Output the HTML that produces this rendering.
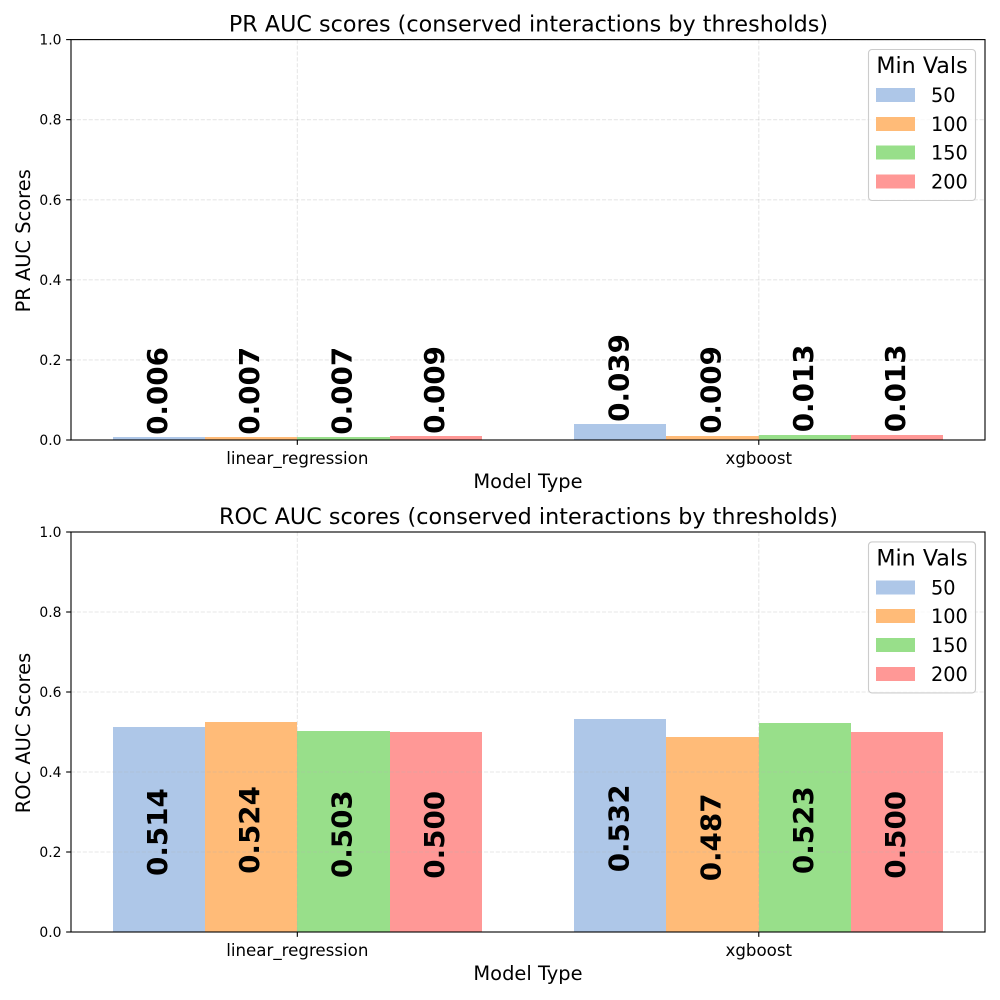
<!DOCTYPE html>
<html lang="en">
<head>
<meta charset="utf-8">
<title>PR and ROC AUC scores</title>
<style>
html,body{margin:0;padding:0;background:#fff;}
svg{display:block;}
text{font-family:"DejaVu Sans","Liberation Sans",sans-serif;fill:#000;}
</style>
</head>
<body>
<svg id="figure" xmlns="http://www.w3.org/2000/svg" width="1000" height="1000" viewBox="0 0 1000 1000"></svg>
<script>
const categories = ["linear_regression", "xgboost"];
const seriesNames = ["50", "100", "150", "200"];
const seriesColors = ["#aec7e8", "#ffbb78", "#98df8a", "#ff9896"];
const prValues50 = [0.0064, 0.039];
const prValues100 = [0.007, 0.009];
const prValues150 = [0.007, 0.013];
const prValues200 = [0.009, 0.013];
const rocValues50 = [0.5137, 0.532];
const rocValues100 = [0.524, 0.487];
const rocValues150 = [0.503, 0.523];
const rocValues200 = [0.500, 0.500];
const yTickLabels = ["0.0", "0.2", "0.4", "0.6", "0.8", "1.0"];

const SVG_NS = "http://www.w3.org/2000/svg";
const root = document.getElementById("figure");

function make(parent, tag, attrs, content) {
  const el = document.createElementNS(SVG_NS, tag);
  for (const key in attrs) el.setAttribute(key, attrs[key]);
  if (content !== undefined) el.textContent = content;
  parent.appendChild(el);
  return el;
}

function drawPanel(cfg) {
  const left = 71, right = 985;
  const top = cfg.top, bottom = cfg.bottom;
  const xScale = function (v) { return 71.2 + (v + 0.49) / 1.98 * 913.7; };
  const yScale = function (v) { return bottom - v * (bottom - top); };
  const barWidth = 0.2;

  const panel = make(root, "g", {});
  
  

  const bg = make(panel, "rect", { x: left, y: top, width: right - left, height: bottom - top, fill: "#fff" });
  
  

  // bars
  cfg.series.forEach(function (vals, s) {
    vals.forEach(function (v, c) {
      const x0 = Math.round(xScale(c + (s - 2) * barWidth));
      const x1 = Math.round(xScale(c + (s - 1) * barWidth));
      const yv = Math.round(yScale(v));
      const bar = make(panel, "rect", {
        x: x0, y: yv, width: x1 - x0, height: Math.max(bottom - yv, 0),
        fill: seriesColors[s], "shape-rendering": "crispEdges"
      });
      
      
    });
  });

  // grid
  yTickLabels.forEach(function (t) {
    const y = yScale(parseFloat(t));
    const line = make(panel, "line", {
      x1: left, x2: right, y1: y, y2: y, stroke: "#b0b0b0", "stroke-opacity": 0.3,
      "stroke-width": 1.11, "stroke-dasharray": "4.1 1.8"
    });
    
    
  });
  categories.forEach(function (name, c) {
    const x = xScale(c);
    const line = make(panel, "line", {
      x1: x, x2: x, y1: top, y2: bottom, stroke: "#b0b0b0", "stroke-opacity": 0.3,
      "stroke-width": 1.11, "stroke-dasharray": "4.1 1.8"
    });
    
    
  });

  // value labels
  cfg.series.forEach(function (vals, s) {
    vals.forEach(function (v, c) {
      const cx = xScale(c + (s - 1.5) * barWidth) + 8;
      let y, anchor;
      if (cfg.labelMode === "above") {
        y = yScale(v + 0.01) + 1.5;
        anchor = "start";
      } else {
        y = yScale(v / 2) + 2.8;
        anchor = "middle";
      }
      const label = make(panel, "text", {
        transform: "translate(" + cx + "," + y + ") rotate(-90)",
        "text-anchor": anchor, "font-size": 27.78, "font-weight": "bold"
      }, v.toFixed(3));
      
      
    });
  });

  // spines
  const frame = make(panel, "rect", {
    x: left, y: top, width: right - left, height: bottom - top,
    fill: "none", stroke: "#000", "stroke-width": 1.11
  });
  
  

  // y ticks
  yTickLabels.forEach(function (t) {
    const y = yScale(parseFloat(t));
    const tick = make(panel, "line", { x1: left - 4.86, x2: left, y1: y, y2: y, stroke: "#000", "stroke-width": 1.11 });
    
    
    const label = make(panel, "text", { x: 61.5, y: y + 5, "text-anchor": "end", "font-size": 13.89 }, t);
    
    
  });

  // x ticks
  categories.forEach(function (name, c) {
    const x = xScale(c);
    const tick = make(panel, "line", { x1: x, x2: x, y1: bottom, y2: bottom + 4.86, stroke: "#000", "stroke-width": 1.11 });
    
    
    const label = make(panel, "text", { x: x, y: bottom + 24, "text-anchor": "middle", "font-size": 16.67 }, name);
    
    
  });

  // titles
  const title = make(panel, "text", { x: 528.5, y: top - 8, "text-anchor": "middle", "font-size": 22.22, "letter-spacing": 0.04 }, cfg.title);
  
  

  const xTitle = make(panel, "text", { x: 528, y: bottom + 48, "text-anchor": "middle", "font-size": 19.44 }, "Model Type");
  
  

  const yMid = (top + bottom) / 2 + 1;
  const yTitle = make(panel, "text", {
    transform: "translate(30," + yMid + ") rotate(-90)",
    "text-anchor": "middle", "font-size": 19.44
  }, cfg.yTitle);
  
  

  // legend
  const dy = top - 39.6;
  const legend = make(panel, "g", {});
  
  

  const box = make(legend, "rect", {
    x: 868.5, y: 49.5 + dy, width: 107, height: 151, rx: 3.5, ry: 3.5,
    fill: "#fff", "fill-opacity": 0.8, stroke: "#ccc", "stroke-width": 1.11
  });
  
  

  const legendTitle = make(legend, "text", { x: 922, y: 73 + dy, "text-anchor": "middle", "font-size": 22.22 }, "Min Vals");
  
  

  seriesNames.forEach(function (name, s) {
    const rowY = 88 + dy + s * 28.8;
    const swatch = make(legend, "rect", {
      x: 876, y: rowY, width: 39, height: 14, fill: seriesColors[s], "shape-rendering": "crispEdges"
    });
    
    
    const text = make(legend, "text", { x: 931, y: rowY + 14, "font-size": 19.3 }, name);
    
    
  });
}

drawPanel({
  key: "pr-auc",
  top: 39.6,
  bottom: 440,
  title: "PR AUC scores (conserved interactions by thresholds)",
  yTitle: "PR AUC Scores",
  labelMode: "above",
  series: [prValues50, prValues100, prValues150, prValues200]
});

drawPanel({
  key: "roc-auc",
  top: 532,
  bottom: 932,
  title: "ROC AUC scores (conserved interactions by thresholds)",
  yTitle: "ROC AUC Scores",
  labelMode: "center",
  series: [rocValues50, rocValues100, rocValues150, rocValues200]
});
</script>
</body>
</html>
